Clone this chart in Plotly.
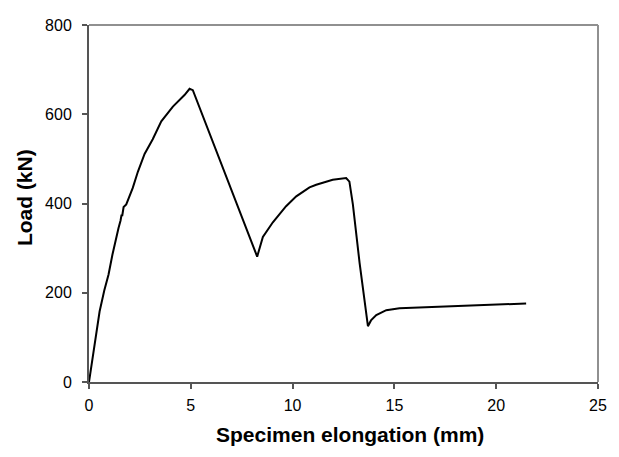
import plotly.graph_objects as go

# Specimen elongation (mm)
elongation = [0, 0.25, 0.52, 0.75, 0.96, 1.15, 1.30, 1.45, 1.55, 1.60, 1.63, 1.70, 1.83,
              2.15, 2.40, 2.73, 3.13, 3.55, 4.12, 4.69, 4.94, 5.10,
              8.26, 8.54, 9.03, 9.68, 10.18, 10.83, 11.16, 11.97, 12.63, 12.79,
              12.96, 13.29, 13.70, 13.85, 14.11, 14.60, 15.25, 16.89, 18.53, 20.16, 21.47]
# Load (kN)
load = [0, 75, 158, 205, 241, 285, 318, 345, 362, 375, 372, 392, 398,
        435, 471, 511, 544, 584, 617, 643, 657, 654,
        281, 325, 358, 394, 416, 436, 442, 453, 457, 449,
        398, 267, 125, 138, 150, 161, 165, 168, 170, 173.5, 176]

x_ticks = [0, 5, 10, 15, 20, 25]
y_ticks = [0, 200, 400, 600, 800]

# page body has an 8px default margin; compensate so the plot lands where the reference has it
OX, OY = 8, 8
W, H = 619 - OX, 457 - OY
L, T = 89 - OX, 17 - OY
R = 619 - 598
B = 457 - 382
pw, ph = W - L - R, H - T - B


def px_to_paper_x(px):
    return (px - OX - L) / pw


def px_to_paper_y(py):
    return 1 - (py - OY - T) / ph


fig = go.Figure()
fig.add_trace(go.Scatter(x=elongation, y=load, mode="lines",
                         line=dict(color="black", width=2), showlegend=False))

axis_font = dict(family="Liberation Sans, Arial, sans-serif", size=16, color="black")
fig.update_layout(
    width=W, height=H,
    margin=dict(l=L, r=R, t=T, b=B),
    paper_bgcolor="white", plot_bgcolor="white",
    xaxis=dict(range=[0, 25], tickvals=x_ticks, showgrid=False, zeroline=False,
               showline=True, linecolor="#555555", linewidth=2,
               ticks="outside", ticklen=5, tickcolor="#555555", tickwidth=1.5,
               tickfont=axis_font, ticklabelstandoff=3),
    yaxis=dict(range=[0, 800], tickvals=y_ticks, showgrid=False, zeroline=False,
               showline=True, linecolor="#555555", linewidth=2,
               ticks="outside", ticklen=5, tickcolor="#555555", tickwidth=1.5,
               tickfont=axis_font, ticklabelstandoff=7),
    shapes=[
        dict(type="line", xref="paper", yref="paper", x0=0, x1=1, y0=1, y1=1,
             line=dict(color="#909090", width=2)),
        dict(type="line", xref="paper", yref="paper", x0=1, x1=1, y0=0, y1=1,
             line=dict(color="#909090", width=2)),
    ],
    annotations=[
        dict(text="<b>Specimen elongation (mm)</b>", xref="paper", yref="paper",
             x=px_to_paper_x(350), y=px_to_paper_y(436), showarrow=False,
             xanchor="center", yanchor="middle",
             font=dict(family="Liberation Sans, Arial, sans-serif", size=21, color="black")),
        dict(text="<b>Load (kN)</b>", xref="paper", yref="paper",
             x=px_to_paper_x(24), y=px_to_paper_y(194), showarrow=False, textangle=-90,
             xanchor="center", yanchor="middle",
             font=dict(family="Liberation Sans, Arial, sans-serif", size=21, color="black")),
    ],
)

fig.write_html("out.html")
